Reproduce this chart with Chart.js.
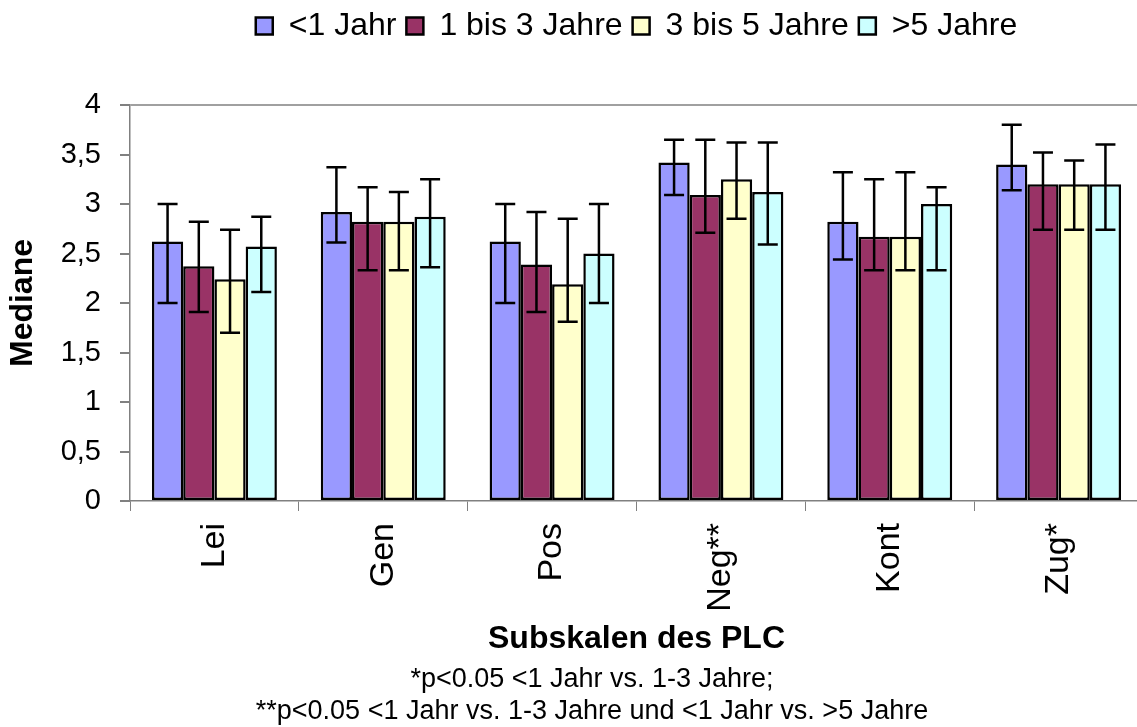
<!DOCTYPE html>
<html>
<head>
<meta charset="utf-8">
<script src="https://cdn.jsdelivr.net/npm/chart.js@4"></script>
<style>
  html, body { margin: 0; padding: 0; background: #fff; overflow: hidden; }
  #wrap { position: absolute; left: 0; top: 0; width: 1160px; height: 727px; }
  .note {
    position: absolute; left: 0; width: 1184px; text-align: center;
    font-family: "Liberation Sans", Arial, sans-serif; font-size: 27px;
    line-height: 32px; color: #000;
  }
</style>
</head>
<body>
<div id="wrap"><canvas id="plc" width="1160" height="727"></canvas></div>
<div class="note" style="top:662px">*p&lt;0.05 &lt;1 Jahr vs. 1-3 Jahre;<br>**p&lt;0.05 &lt;1 Jahr vs. 1-3 Jahre und &lt;1 Jahr vs. &gt;5 Jahre</div>
<script>
// Subskalen des PLC, Mediane nach Dauer
const categories = ["Lei", "Gen", "Pos", "Neg**", "Kont", "Zug*"];
const seriesNames = ["<1 Jahr", "1 bis 3 Jahre", "3 bis 5 Jahre", ">5 Jahre"];

const lessThan1 = [2.62, 2.92, 2.62, 3.42, 2.82, 3.40];
const oneToThree = [2.37, 2.82, 2.39, 3.09, 2.67, 3.20];
const threeToFive = [2.24, 2.82, 2.19, 3.25, 2.67, 3.20];
const moreThan5 = [2.57, 2.87, 2.50, 3.12, 3.00, 3.20];

// error bar ends
const lessThan1Hi = [3.00, 3.37, 3.00, 3.65, 3.32, 3.80];
const lessThan1Lo = [2.00, 2.61, 2.00, 3.09, 2.44, 3.14];
const oneToThreeHi = [2.82, 3.17, 2.92, 3.65, 3.25, 3.52];
const oneToThreeLo = [1.91, 2.33, 1.91, 2.71, 2.33, 2.74];
const threeToFiveHi = [2.74, 3.12, 2.85, 3.62, 3.32, 3.44];
const threeToFiveLo = [1.70, 2.33, 1.81, 2.85, 2.33, 2.74];
const moreThan5Hi = [2.87, 3.25, 3.00, 3.62, 3.17, 3.60];
const moreThan5Lo = [2.11, 2.36, 2.00, 2.59, 2.33, 2.74];

const colors = ["#9999FF", "#993366", "#FFFFCC", "#CCFFFF"];
const font = "'Liberation Sans', Arial, sans-serif";

function makeSet(i, values, hi, lo) {
  return {
    label: seriesNames[i],
    data: values,
    errHi: hi,
    errLo: lo,
    backgroundColor: colors[i],
    borderColor: "#000",
    borderWidth: 2.5,
    borderSkipped: false,
    categoryPercentage: 0.74,
    barPercentage: 1.0
  };
}

// draws the whiskers on top of the bars
const errorBars = {
  id: "errorBars",
  afterDatasetsDraw(chart) {
    const ctx = chart.ctx;
    const y = chart.scales.y;
    ctx.save();
    ctx.strokeStyle = "#000";
    ctx.lineWidth = 2.5;
    chart.data.datasets.forEach((ds, i) => {
      chart.getDatasetMeta(i).data.forEach((bar, j) => {
        const top = y.getPixelForValue(ds.errHi[j]);
        const bot = y.getPixelForValue(ds.errLo[j]);
        ctx.beginPath();
        ctx.moveTo(bar.x, top);
        ctx.lineTo(bar.x, bot);
        ctx.moveTo(bar.x - 10, top);
        ctx.lineTo(bar.x + 10, top);
        ctx.moveTo(bar.x - 10, bot);
        ctx.lineTo(bar.x + 10, bot);
        ctx.stroke();
      });
    });
    ctx.restore();
  }
};

// extra room between legend and plot
const legendGap = {
  id: "legendGap",
  beforeInit(chart) {
    const fit = chart.legend.fit;
    chart.legend.fit = function () {
      fit.call(this);
      this.height += 53;
    };
  }
};

new Chart(document.getElementById("plc"), {
  type: "bar",
  data: {
    labels: categories,
    datasets: [
      makeSet(0, lessThan1, lessThan1Hi, lessThan1Lo),
      makeSet(1, oneToThree, oneToThreeHi, oneToThreeLo),
      makeSet(2, threeToFive, threeToFiveHi, threeToFiveLo),
      makeSet(3, moreThan5, moreThan5Hi, moreThan5Lo)
    ]
  },
  plugins: [errorBars, legendGap],
  options: {
    responsive: false,
    animation: false,
    layout: { padding: { left: 0, right: 17, top: 0, bottom: 65 } },
    plugins: {
      tooltip: { enabled: false },
      legend: {
        position: "top",
        fullSize: false,
        labels: {
          color: "#000",
          font: { family: font, size: 32 },
          boxWidth: 17,
          boxHeight: 17,
          padding: 10
        }
      }
    },
    scales: {
      x: {
        afterFit(scale) { scale.height = 161; },
        grid: {
          offset: true,
          drawOnChartArea: false,
          tickLength: 10,
          tickColor: "#808080"
        },
        border: { color: "#808080", width: 1.5 },
        ticks: {
          color: "#000",
          font: { family: font, size: 34 },
          minRotation: 90,
          maxRotation: 90,
          padding: 12
        },
        title: {
          display: true,
          text: "Subskalen des PLC",
          color: "#000",
          font: { family: font, size: 32, weight: "bold" }
        }
      },
      y: {
        min: 0,
        max: 4,
        afterFit(scale) { scale.width = 130; },
        grid: {
          color: c => (c.tick && c.tick.value === 4 ? "#a0a0a0" : "rgba(0,0,0,0)"),
          lineWidth: 2,
          tickLength: 10,
          tickColor: "#808080"
        },
        border: { color: "#808080", width: 1.5 },
        ticks: {
          stepSize: 0.5,
          color: "#000",
          font: { family: font, size: 29 },
          padding: 19,
          callback: v => String(v).replace(".", ",")
        },
        title: {
          display: true,
          text: "Mediane",
          color: "#000",
          font: { family: font, size: 32, weight: "bold" }
        }
      }
    }
  }
});
</script>
</body>
</html>
